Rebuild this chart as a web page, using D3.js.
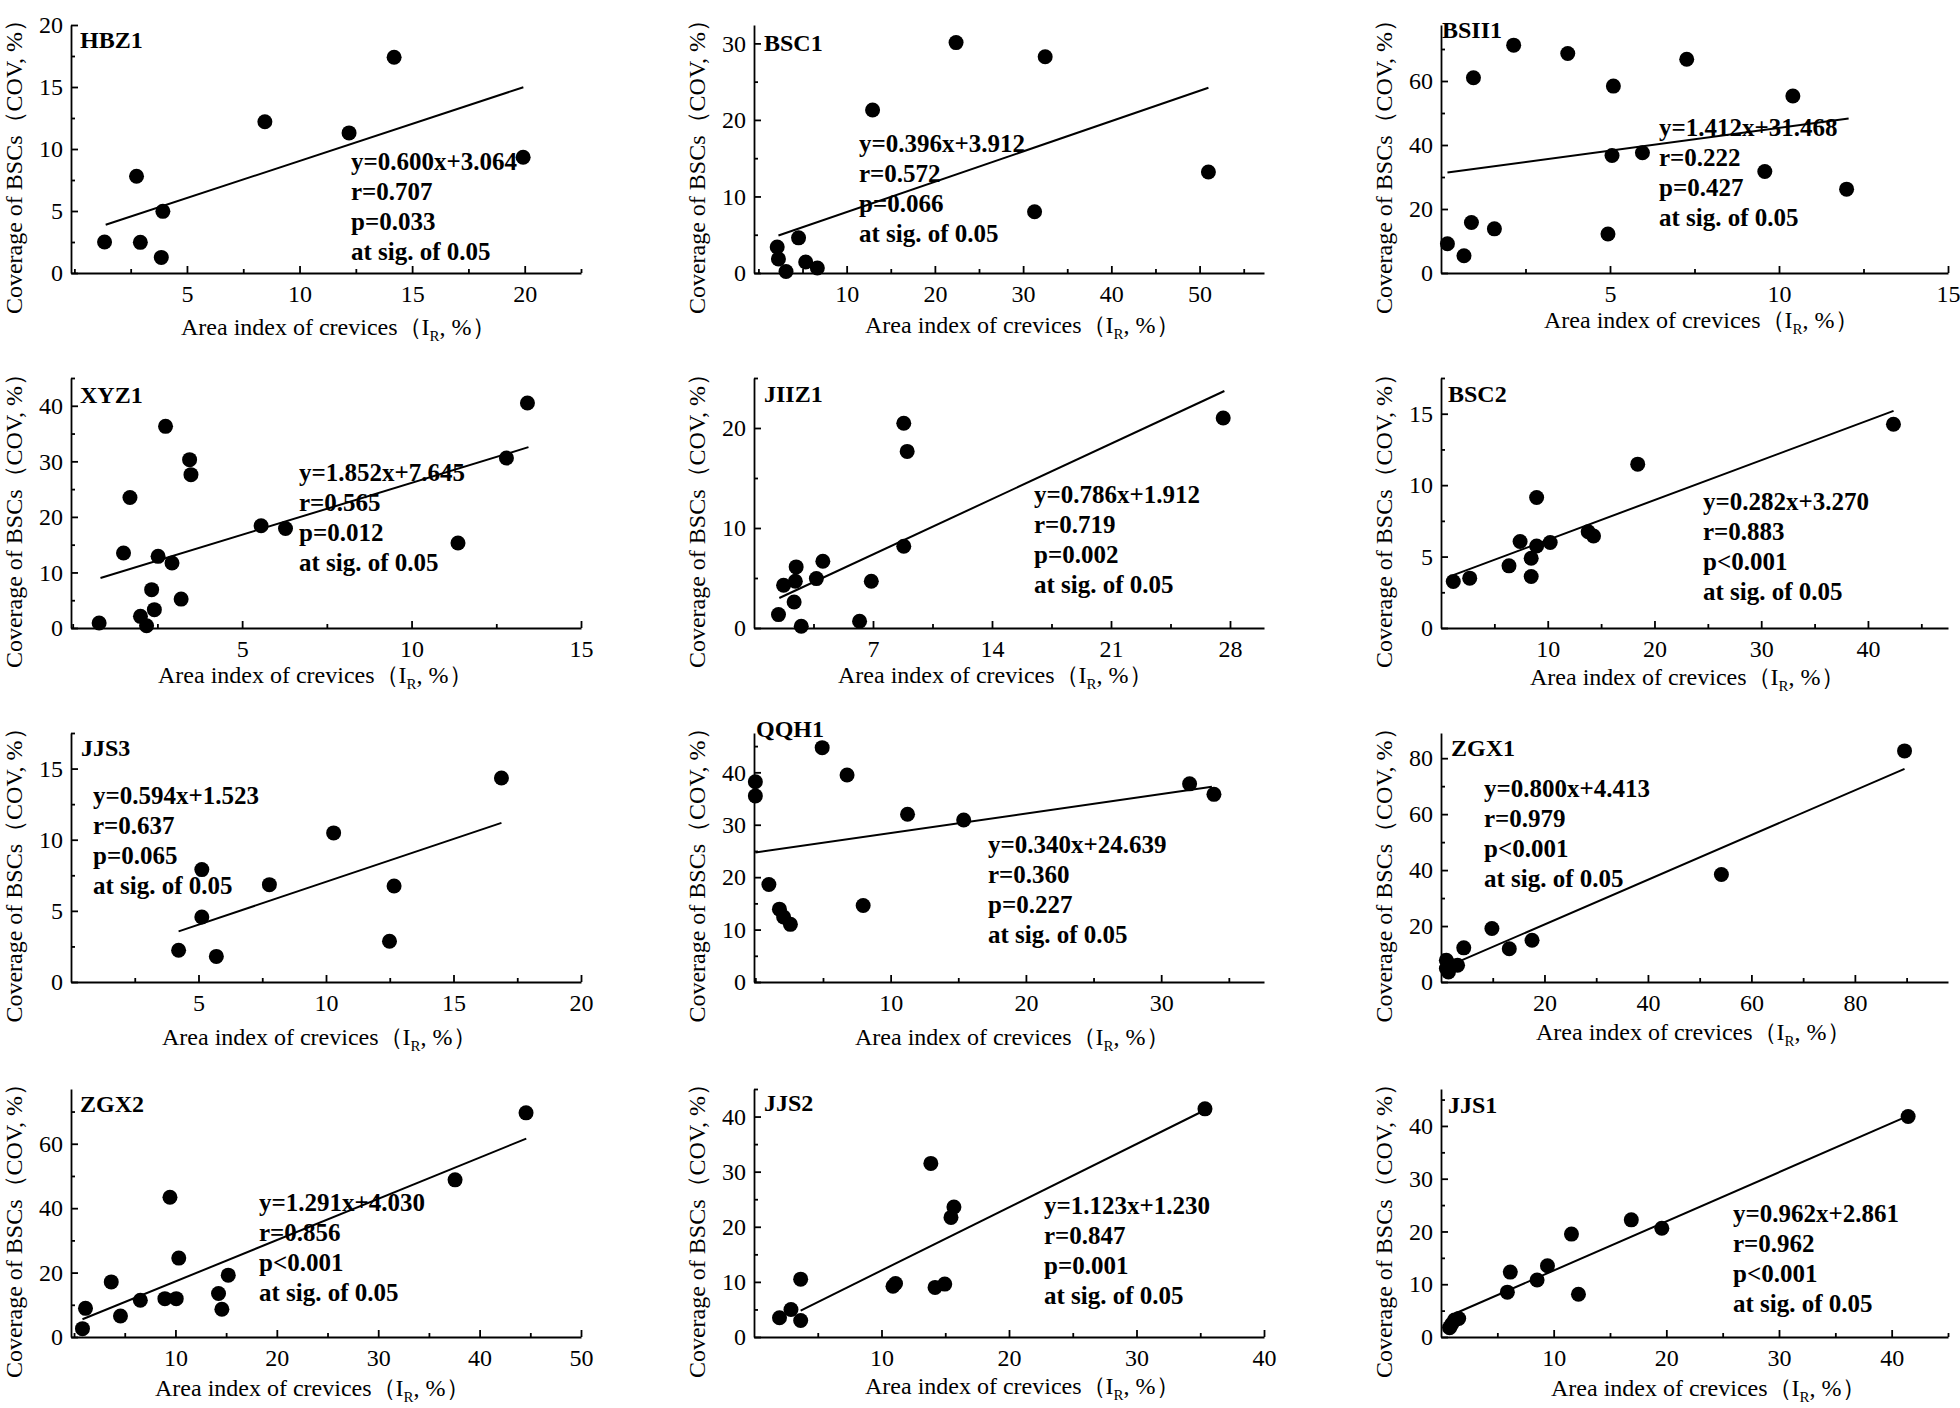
<!DOCTYPE html>
<html>
<head>
<meta charset="utf-8">
<script src="https://cdn.jsdelivr.net/npm/d3@7.9.0/dist/d3.min.js"></script>
<style>
  body { margin: 0; background: #fff; }
  svg { display: block; }
  text { font-family: "Liberation Serif", "Times New Roman", serif; fill: #000; }
</style>
</head>
<body>
<svg id="chart" width="1960" height="1408"></svg>
<script>
// one entry per panel, reading order (row by row)
const sites = ['HBZ1','BSC1','BSII1','XYZ1','JIIZ1','BSC2','JJS3','QQH1','ZGX1','ZGX2','JJS2','JJS1'];

// area index of crevices (I_R, %)
const crevX = [
  [1.34,2.76,2.93,3.86,3.93,8.46,12.2,14.2,19.93],
  [2.13,2.27,3.13,4.55,5.36,6.68,12.94,22.4,31.3,32.5,51.0],
  [0.19,0.68,0.9,0.96,1.58,2.15,3.75,4.94,5.06,5.1,5.96,7.27,9.58,10.41,12.0],
  [0.78,1.5,1.69,2.0,2.18,2.33,2.41,2.52,2.74,2.93,3.2,3.45,3.49,5.56,6.28,11.37,12.8,13.42],
  [1.44,1.74,2.43,2.48,2.36,2.78,3.67,4.05,6.21,6.9,8.81,9.01,8.81,27.6],
  [1.15,2.69,6.37,7.41,8.45,8.45,8.96,8.96,10.23,13.79,14.29,18.43,42.39],
  [4.22,5.13,5.13,5.7,7.78,10.3,12.49,12.67,16.88],
  [0,0,1.0,1.78,2.09,2.59,4.94,6.78,7.97,11.25,15.4,32.1,33.9],
  [1.04,1.04,1.44,1.84,3.2,4.4,9.84,13.2,17.6,54.2,89.6],
  [0.83,1.13,3.67,4.58,6.54,8.96,10.08,9.46,10.33,14.25,14.58,15.21,37.58,44.58],
  [2.0,2.9,3.66,3.66,10.9,11.1,13.87,14.2,14.96,15.45,15.68,35.37],
  [0.76,0.94,1.2,1.57,5.89,6.15,8.53,9.45,11.58,12.2,16.89,19.6,41.46]
];

// coverage of BSCs (COV, %)
const covY = [
  [2.5,7.8,2.47,1.26,4.97,12.2,11.3,17.4,9.34],
  [3.4,1.83,0.2,4.59,1.44,0.66,21.3,30.1,8.0,28.25,13.2],
  [9.15,5.4,15.8,61.0,13.8,71.2,68.6,12.2,36.7,58.4,37.6,66.8,31.7,55.3,26.2],
  [0.9,13.5,23.5,2.1,0.4,6.9,3.3,12.9,36.3,11.7,5.2,30.3,27.6,18.4,17.9,15.3,30.6,40.5],
  [1.34,4.27,4.67,6.11,2.6,0.17,4.94,6.68,0.67,4.67,20.47,17.66,8.18,21.0],
  [3.26,3.49,4.35,6.05,3.6,4.88,5.74,9.14,5.98,6.74,6.44,11.47,14.26],
  [2.23,7.9,4.57,1.8,6.84,10.48,2.86,6.75,14.34],
  [38.2,35.5,18.6,13.9,12.4,11.0,44.7,39.5,14.6,32.0,30.9,37.8,35.8],
  [4.8,7.76,3.6,6.0,6.0,12.2,19.1,11.9,14.9,38.4,82.6],
  [2.6,8.9,17.1,6.5,11.4,11.9,11.9,43.4,24.5,13.5,8.6,19.2,48.8,69.6],
  [3.5,5.0,3.0,10.5,9.2,9.7,31.5,9.0,9.6,21.7,23.6,41.4],
  [1.77,2.4,3.2,3.5,8.5,12.3,10.8,13.5,19.5,8.1,22.2,20.6,41.8]
];

// fitted line ends as drawn in the figure
const fitX = [[1.39,19.94],[2.27,51],[0.19,12.06],[0.82,13.45],[1.49,27.67],[1.15,42.4],
              [4.22,16.88],[0,33.75],[1.04,89.6],[0.83,44.6],[3.66,35.3],[1.2,41.46]];
const fitY = [[3.89,14.98],[4.9,24.2],[31.4,48.3],[9.0,32.55],[3.0,23.7],[3.7,15.2],
              [3.56,11.18],[24.7,37.26],[5.4,76.2],[5.5,61.6],[4.8,41.1],[4.4,41.9]];

const equations = ['y=0.600x+3.064','y=0.396x+3.912','y=1.412x+31.468','y=1.852x+7.645',
                   'y=0.786x+1.912','y=0.282x+3.270','y=0.594x+1.523','y=0.340x+24.639',
                   'y=0.800x+4.413','y=1.291x+4.030','y=1.123x+1.230','y=0.962x+2.861'];
const rValues = ['0.707','0.572','0.222','0.565','0.719','0.883','0.637','0.360','0.979','0.856','0.847','0.962'];
const pValues = ['p=0.033','p=0.066','p=0.427','p=0.012','p=0.002','p<0.001','p=0.065','p=0.227','p<0.001','p<0.001','p=0.001','p<0.001'];

const xDomains = [[-0.15,22.5],[-0.5,57.3],[0,15],[-0.05,15],[0,30],[0,47.5],
                  [0,20],[-0.1,37.6],[0,98],[-0.3,50],[0,40],[0,45]];
const yDomains = [[0,20],[0,32.4],[0,77.5],[0,45],[0,25],[0,17.5],
                  [0,17.5],[0,47.5],[0,89],[0,77],[0,45],[0,47]];
const xTicks = [[5,10,15,20],[10,20,30,40,50],[5,10,15],[5,10,15],[7,14,21,28],[10,20,30,40],
                [5,10,15,20],[10,20,30],[20,40,60,80],[10,20,30,40,50],[10,20,30,40],[10,20,30,40]];
const yTicks = [[0,5,10,15,20],[0,10,20,30],[0,20,40,60],[0,10,20,30,40],[0,10,20],[0,5,10,15],
                [0,5,10,15],[0,10,20,30,40],[0,20,40,60,80],[0,20,40,60],[0,10,20,30,40],[0,10,20,30,40]];
const xMinorStep = [2.5,5,2.5,2.5,3.5,5,2.5,5,10,5,5,5];
const yMinorStep = [2.5,5,10,5,5,2.5,2.5,5,10,10,5,5];

// layout
const colLeft = [71, 754, 1441], colWidth = [510, 510, 507];
const rowTop = [25, 378, 733, 1089], rowBottom = [273, 628, 982, 1337];
const titlePos = [[9,23],[10,26],[1,13],[9,25],[10,24],[7,24],[10,23],[2,4],[10,23],[9,23],[10,22],[7,24]];
const statPos = [[280,145],[105,127],[218,111],[228,103],[280,125],[262,132],
                 [22,71],[234,120],[43,64],[188,122],[290,125],[292,133]];
const xLabelPos = [[110,62],[111,60],[103,55],[87,55],[84,55],[89,57],[91,63],[101,63],[95,58],[84,59],[111,57],[110,59]];

const svg = d3.select('#chart');

sites.forEach((site, i) => {
  const col = i % 3, row = Math.floor(i / 3);
  const left = colLeft[col], right = left + colWidth[col];
  const top = rowTop[row], bottom = rowBottom[row];

  const x = d3.scaleLinear().domain(xDomains[i]).range([left, right]);
  const y = d3.scaleLinear().domain(yDomains[i]).range([bottom, top]);

  const g = svg.append('g').attr('class', 'panel');

  // minor ticks
  const xMin = d3.range(0, xDomains[i][1] + 1e-9, xMinorStep[i]).filter(v => v > xDomains[i][0] && !xTicks[i].includes(v));
  const yMin = d3.range(0, yDomains[i][1] + 1e-9, yMinorStep[i]).filter(v => v > 0 && !yTicks[i].includes(v));

  g.append('g')
    .attr('transform', `translate(0,${bottom})`)
    .call(d3.axisBottom(x).tickValues(xMin).tickFormat('').tickSize(-4).tickSizeOuter(0))
    .call(a => a.select('.domain').remove());
  g.append('g')
    .attr('transform', `translate(${left},0)`)
    .call(d3.axisLeft(y).tickValues(yMin).tickFormat('').tickSize(-4).tickSizeOuter(0))
    .call(a => a.select('.domain').remove());

  // major axes
  const xa = g.append('g')
    .attr('transform', `translate(0,${bottom})`)
    .call(d3.axisBottom(x).tickValues(xTicks[i]).tickSize(-7).tickSizeOuter(0).tickPadding(12));
  const ya = g.append('g')
    .attr('transform', `translate(${left},0)`)
    .call(d3.axisLeft(y).tickValues(yTicks[i]).tickSize(-7).tickSizeOuter(0).tickPadding(8));

  [xa, ya].forEach(a => {
    a.selectAll('text').attr('font-family', null).style('font-size', '24px').attr('fill', '#000');
    a.selectAll('line, path').attr('stroke', '#000').attr('stroke-width', 1.8);
  });
  g.selectAll('line').attr('stroke', '#000').attr('stroke-width', 1.8);

  // fit line
  g.append('line')
    .attr('x1', x(fitX[i][0])).attr('y1', y(fitY[i][0]))
    .attr('x2', x(fitX[i][1])).attr('y2', y(fitY[i][1]))
    .attr('stroke', '#000').attr('stroke-width', 2);

  // points
  g.append('g').selectAll('circle')
    .data(crevX[i].map((v, k) => [v, covY[i][k]]))
    .join('circle')
      .attr('cx', d => x(d[0]))
      .attr('cy', d => y(d[1]))
      .attr('r', 7.5)
      .attr('fill', '#000');

  // site name
  g.append('text')
    .attr('x', left + titlePos[i][0]).attr('y', top + titlePos[i][1])
    .style('font-size', '24px').style('font-weight', 'bold')
    .text(site);

  // regression stats
  const lines = [equations[i], 'r=' + rValues[i], pValues[i], 'at sig. of 0.05'];
  g.append('g').selectAll('text')
    .data(lines)
    .join('text')
      .attr('x', left + statPos[i][0])
      .attr('y', (d, k) => top + statPos[i][1] + k * 30)
      .style('font-size', '25px').style('font-weight', 'bold')
      .text(d => d);

  // x title
  const xt = g.append('text')
    .attr('x', left + xLabelPos[i][0]).attr('y', bottom + xLabelPos[i][1])
    .style('font-size', '24px');
  xt.append('tspan').text('Area index of crevices（I');
  xt.append('tspan').attr('dy', 6).style('font-size', '15px').text('R');
  xt.append('tspan').attr('dy', -6).text(', %）');

  // y title
  g.append('text')
    .attr('transform', `translate(${left - 57},${(top + bottom) / 2 + 12}) rotate(-90)`)
    .attr('text-anchor', 'middle')
    .attr('dominant-baseline', 'central')
    .style('font-size', '24px')
    .text('Coverage of BSCs（COV, %）');
});
</script>
</body>
</html>
